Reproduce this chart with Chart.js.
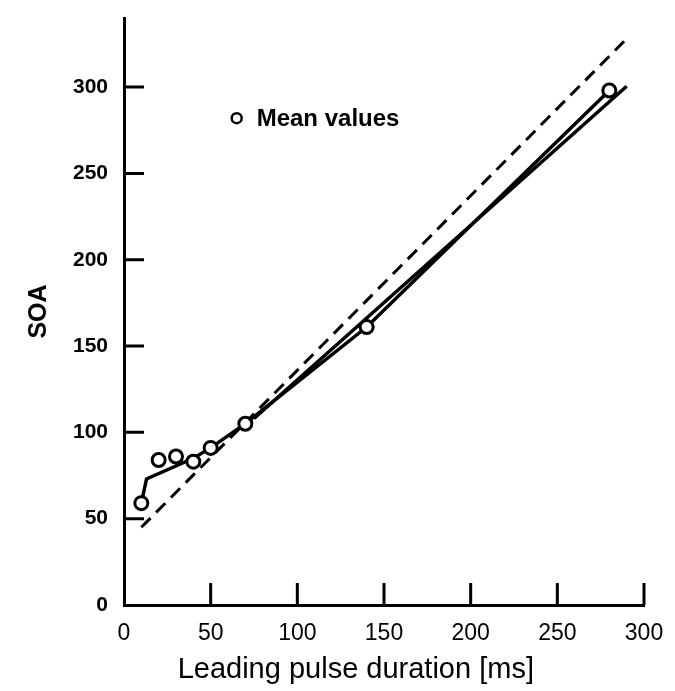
<!DOCTYPE html>
<html lang="en">
<head>
<meta charset="UTF-8">
<title>SOA vs leading pulse duration</title>
<style>
  body { margin: 0; background: #fff; }
  #wrap { width: 675px; height: 691px; }
</style>
<script src="https://cdn.jsdelivr.net/npm/chart.js"></script>
</head>
<body>
<div id="wrap"><canvas id="chart"></canvas></div>
<script>
// mean values (open circles)
const meanX = [10, 20, 30, 40, 50, 70, 140, 280];
const meanY = [59, 84, 86, 83, 91, 105, 161, 298];

// solid curve running through the means
const curveX = [10, 13, 40, 50, 70, 140, 280];
const curveY = [59, 73, 85, 91, 105, 161, 298];

// second solid (straight) line
const fitX = [75, 290];
const fitY = [108, 300.5];

// dashed line
const dashX = [10, 290];
const dashY = [45, 328];

const xTicks = [0, 50, 100, 150, 200, 250, 300];
const yTicks = [0, 50, 100, 150, 200, 250, 300];

const toPoints = (xs, ys) => xs.map((v, i) => ({ x: v, y: ys[i] }));

const FONT = "'Liberation Sans', Arial, sans-serif";

// tick marks pointing into the plot + the little legend
const innerTicks = {
    id: 'innerTicks',
    afterDraw(chart) {
        const { ctx, scales: { x, y } } = chart;
        ctx.save();
        ctx.strokeStyle = '#000';
        ctx.lineWidth = 3;
        ctx.beginPath();
        xTicks.filter(v => v > 0).forEach(v => {
            const px = x.getPixelForValue(v);
            ctx.moveTo(px, y.bottom);
            ctx.lineTo(px, y.bottom - 22);
        });
        yTicks.filter(v => v > 0).forEach(v => {
            const py = y.getPixelForValue(v);
            ctx.moveTo(x.left, py);
            ctx.lineTo(x.left + 20, py);
        });
        ctx.stroke();

        // legend
        const lx = x.getPixelForValue(65), ly = y.getPixelForValue(282);
        ctx.lineWidth = 2.5;
        ctx.beginPath();
        ctx.arc(lx, ly, 5, 0, Math.PI * 2);
        ctx.stroke();
        ctx.fillStyle = '#000';
        ctx.font = 'bold 24px ' + FONT;
        ctx.textBaseline = 'middle';
        ctx.fillText('Mean values', lx + 20, ly + 1);
        ctx.restore();
    }
};

new Chart(document.getElementById('chart'), {
    type: 'scatter',
    data: {
        datasets: [
            {
                label: 'Mean values',
                data: toPoints(meanX, meanY),
                showLine: false,
                pointRadius: 6.5,
                pointBorderWidth: 3,
                pointBorderColor: '#000',
                pointBackgroundColor: '#fff'
            },
            {
                data: toPoints(curveX, curveY),
                showLine: true,
                borderColor: '#000',
                borderWidth: 3.5,
                pointRadius: 0
            },
            {
                data: toPoints(fitX, fitY),
                showLine: true,
                borderColor: '#000',
                borderWidth: 3.5,
                pointRadius: 0
            },
            {
                data: toPoints(dashX, dashY),
                showLine: true,
                borderColor: '#000',
                borderWidth: 3,
                borderDash: [13, 8],
                pointRadius: 0
            }
        ]
    },
    options: {
        responsive: true,
        maintainAspectRatio: false,
        animation: false,
        layout: { padding: { top: 18, right: 31, left: 0, bottom: 0 } },
        plugins: {
            legend: { display: false },
            tooltip: { enabled: false }
        },
        scales: {
            x: {
                type: 'linear',
                min: 0,
                max: 300,
                afterBuildTicks: s => { s.ticks = xTicks.map(v => ({ value: v })); },
                afterFit: s => { s.height = 86; s.paddingLeft = 0; s.paddingRight = 0; },
                grid: { display: false, drawTicks: false },
                border: { display: true, color: '#000', width: 3 },
                ticks: {
                    color: '#000',
                    padding: 15,
                    maxRotation: 0,
                    font: { family: FONT, size: 23 }
                },
                title: {
                    display: true,
                    // trailing spaces nudge the centred title left, as in the original
                    text: 'Leading pulse duration [ms]\u00a0\u00a0\u00a0\u00a0\u00a0\u00a0\u00a0',
                    color: '#000',
                    font: { family: FONT, size: 29 },
                    padding: { top: 0, bottom: 4 }
                }
            },
            y: {
                type: 'linear',
                min: 0,
                max: 340,
                afterBuildTicks: s => { s.ticks = yTicks.map(v => ({ value: v })); },
                afterFit: s => { s.width = 124; s.paddingTop = 0; s.paddingBottom = 0; },
                grid: { display: false, drawTicks: false },
                border: { display: true, color: '#000', width: 3 },
                ticks: {
                    color: '#000',
                    padding: 16,
                    font: { family: FONT, size: 21, weight: 'bold' }
                },
                title: {
                    display: true,
                    text: 'SOA',
                    color: '#000',
                    font: { family: FONT, size: 25, weight: 'bold' },
                    padding: { top: 24, bottom: 0 }
                }
            }
        }
    },
    plugins: [innerTicks]
});
</script>
</body>
</html>
